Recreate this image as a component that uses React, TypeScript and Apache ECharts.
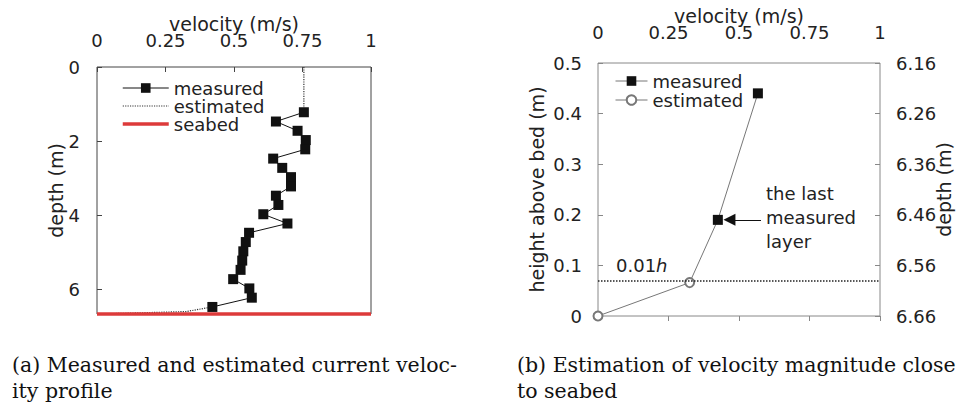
import React, { useEffect, useRef } from 'react';
import * as echarts from 'echarts';

// ---------- data ----------
const velocityTicks = ['0', '0.25', '0.5', '0.75', '1'];

// (a) measured profile
const profileDepth = [1.22, 1.47, 1.72, 1.97, 2.22, 2.47, 2.72, 2.97, 3.22, 3.47, 3.72, 3.97, 4.22, 4.47, 4.72, 4.97, 5.22, 5.47, 5.72, 5.97, 6.22, 6.47];
const profileVelocity = [0.755, 0.653, 0.732, 0.762, 0.76, 0.643, 0.676, 0.708, 0.708, 0.653, 0.662, 0.607, 0.695, 0.555, 0.543, 0.534, 0.53, 0.524, 0.497, 0.556, 0.565, 0.421];
// (a) estimated parts
const surfaceEstDepth = [0, 1.22];
const surfaceEstVelocity = [0.755, 0.755];
const bedEstDepth = [6.47, 6.594, 6.66];
const bedEstVelocity = [0.421, 0.325, 0];
const seabedDepth = 6.66;
const seabedVelocity = [0, 1];

// (b) near-bed
const nearMeasHeight = [0.44, 0.19];
const nearMeasVelocity = [0.567, 0.425];
const nearEstHeight = [0.19, 0.066, 0];
const nearEstVelocity = [0.425, 0.325, 0];
const refHeight = 0.066; // 0.01h
const arrowVelocity = [0.578, 0.466];
const arrowHeight = 0.19;
const depthLabels = ['6.66', '6.56', '6.46', '6.36', '6.26', '6.16'];

const FONT = 'DejaVu Sans';
const SERIF = 'DejaVu Serif';
const TXT = '#222';

function zip(xs: number[], ys: number[]) {
  return xs.map((x, i) => [x, ys[i]]);
}

export default function App() {
  const ref = useRef<HTMLDivElement>(null);
  useEffect(() => {
    if (!ref.current) return;
    const chart = echarts.init(ref.current, undefined, { renderer: 'svg' });

    const baseAxis = (tickColor: string) => ({
      type: 'value',
      nameLocation: 'middle',
      nameMoveOverlap: false,
      splitLine: { show: false },
      axisLine: { show: false },
      axisTick: { show: true, inside: true, length: 5, lineStyle: { color: tickColor, width: 1 } },
      axisLabel: { fontSize: 18, color: TXT, fontFamily: FONT },
      nameTextStyle: { fontSize: 19, color: TXT, fontFamily: FONT },
    });

    const option: any = {
      animation: false,
      backgroundColor: '#fff',
      grid: [
        { left: 97, top: 67, width: 274, height: 247, show: true, borderColor: '#444', borderWidth: 1, outerBoundsMode: 'none', containLabel: false },
        { left: 598, top: 63, width: 282, height: 253, show: true, borderColor: '#888', borderWidth: 1, outerBoundsMode: 'none', containLabel: false },
      ],
      xAxis: [
        {
          ...baseAxis('#444'), gridIndex: 0, position: 'top', min: 0, max: 1, interval: 0.25,
          name: 'velocity (m/s)', nameGap: 34,
          axisLabel: { ...baseAxis('#444').axisLabel, margin: 18, formatter: (_v: number, i: number) => velocityTicks[i] },
        },
        {
          ...baseAxis('#888'), gridIndex: 1, position: 'top', min: 0, max: 1, interval: 0.25,
          name: 'velocity (m/s)', nameGap: 38,
          axisLabel: { ...baseAxis('#888').axisLabel, margin: 22, formatter: (_v: number, i: number) => velocityTicks[i] },
        },
      ],
      yAxis: [
        {
          ...baseAxis('#444'), gridIndex: 0, inverse: true, min: 0, max: seabedDepth, interval: 2,
          name: 'depth (m)', nameGap: 32,
          axisLabel: { ...baseAxis('#444').axisLabel, margin: 17, showMaxLabel: false },
        },
        {
          ...baseAxis('#888'), gridIndex: 1, position: 'left', min: 0, max: 0.5, interval: 0.1,
          name: 'height above bed (m)', nameGap: 52,
          axisLabel: { ...baseAxis('#888').axisLabel, margin: 16 },
        },
        {
          ...baseAxis('#888'), gridIndex: 1, position: 'right', min: 0, max: 0.5, interval: 0.1,
          name: 'depth (m)', nameGap: 54,
          axisLabel: { ...baseAxis('#888').axisLabel, margin: 16, formatter: (_v: number, i: number) => depthLabels[i] },
        },
      ],
      legend: [
        {
          orient: 'vertical', left: 116, top: 74, itemWidth: 46, itemHeight: 12, itemGap: 0,
          textStyle: { fontSize: 18, color: TXT, fontFamily: FONT, lineHeight: 16 },
          lineStyle: { width: 'inherit' },
          selectedMode: false,
          data: [
            { name: 'measured' },
            { name: 'estimated', itemStyle: { opacity: 0 } },
            { name: 'seabed', itemStyle: { opacity: 0 } },
          ],
        },
        {
          orient: 'vertical', left: 610, top: 67, itemWidth: 32, itemHeight: 12, itemGap: 1,
          textStyle: { fontSize: 18, color: TXT, fontFamily: FONT, lineHeight: 17 },
          lineStyle: { width: 'inherit' },
          selectedMode: false,
          formatter: (name: string) => name.trim(),
          data: [{ name: 'measured ' }, { name: 'estimated ' }],
        },
      ],
      series: [
        {
          name: 'estimated', type: 'line', xAxisIndex: 0, yAxisIndex: 0,
          data: zip(surfaceEstVelocity, surfaceEstDepth), symbol: 'none',
          lineStyle: { type: 'dotted', width: 1.2, color: '#333' }, itemStyle: { color: '#333' },
        },
        {
          name: 'estimated', type: 'line', xAxisIndex: 0, yAxisIndex: 0,
          data: zip(bedEstVelocity, bedEstDepth), symbol: 'none',
          lineStyle: { type: 'dotted', width: 1.2, color: '#333' }, itemStyle: { color: '#333' },
        },
        {
          name: 'measured', type: 'line', xAxisIndex: 0, yAxisIndex: 0,
          data: zip(profileVelocity, profileDepth), symbol: 'rect', symbolSize: 10,
          lineStyle: { width: 1, color: '#111' }, itemStyle: { color: '#111' },
        },
        {
          name: 'seabed', type: 'line', xAxisIndex: 0, yAxisIndex: 0, clip: false,
          data: seabedVelocity.map((v) => [v, seabedDepth]), symbol: 'none',
          lineStyle: { width: 3.5, color: '#dd3a3a' }, itemStyle: { color: '#dd3a3a' },
        },
        {
          name: 'estimated ', type: 'line', xAxisIndex: 1, yAxisIndex: 1,
          data: zip(nearEstVelocity, nearEstHeight).map((p, i) => (i === 0 ? { value: p, symbol: 'none' } : p)),
          symbol: 'emptyCircle', symbolSize: 9,
          lineStyle: { width: 1, color: '#777' }, itemStyle: { color: '#777', borderWidth: 1 },
          markLine: {
            silent: true, symbol: 'none', label: { show: false },
            lineStyle: { type: 'dotted', width: 1.5, color: '#222' },
            data: [{ yAxis: refHeight }],
          },
        },
        {
          name: 'measured ', type: 'line', xAxisIndex: 1, yAxisIndex: 1,
          data: zip(nearMeasVelocity, nearMeasHeight), symbol: 'rect', symbolSize: 10,
          lineStyle: { width: 1, color: '#777' }, itemStyle: { color: '#111' },
          markLine: {
            silent: true, symbol: ['none', 'triangle'], symbolSize: 12, label: { show: false },
            lineStyle: { type: 'solid', width: 1, color: '#111' },
            data: [[{ coord: [arrowVelocity[0], arrowHeight] }, { coord: [arrowVelocity[1], arrowHeight] }]],
          },
        },
      ],
      graphic: [
        {
          type: 'text', x: 616, y: 256,
          style: {
            text: '{a|0.01}{b|h}',
            rich: {
              a: { fontSize: 18, fontFamily: FONT, fill: TXT },
              b: { fontSize: 18, fontFamily: FONT, fontStyle: 'italic', fill: TXT },
            },
            verticalAlign: 'top',
          },
        },
        {
          type: 'text', x: 766, y: 181,
          style: { text: 'the last\nmeasured\nlayer', fontSize: 18, fontFamily: FONT, fill: TXT, lineHeight: 24, verticalAlign: 'top' },
        },
        {
          type: 'text', x: 12, y: 352,
          style: { text: '(a) Measured and estimated current veloc-\nity profile', fontSize: 20.5, fontFamily: SERIF, fill: '#111', lineHeight: 26, verticalAlign: 'top' },
        },
        {
          type: 'text', x: 517, y: 352,
          style: { text: '(b) Estimation of velocity magnitude close\nto seabed', fontSize: 20.5, fontFamily: SERIF, fill: '#111', lineHeight: 26, verticalAlign: 'top' },
        },
      ],
    };
    chart.setOption(option);
    return () => chart.dispose();
  }, []);
  return <div ref={ref} style={{ position: 'absolute', left: 0, top: 0, width: 973, height: 407 }} />;
}
